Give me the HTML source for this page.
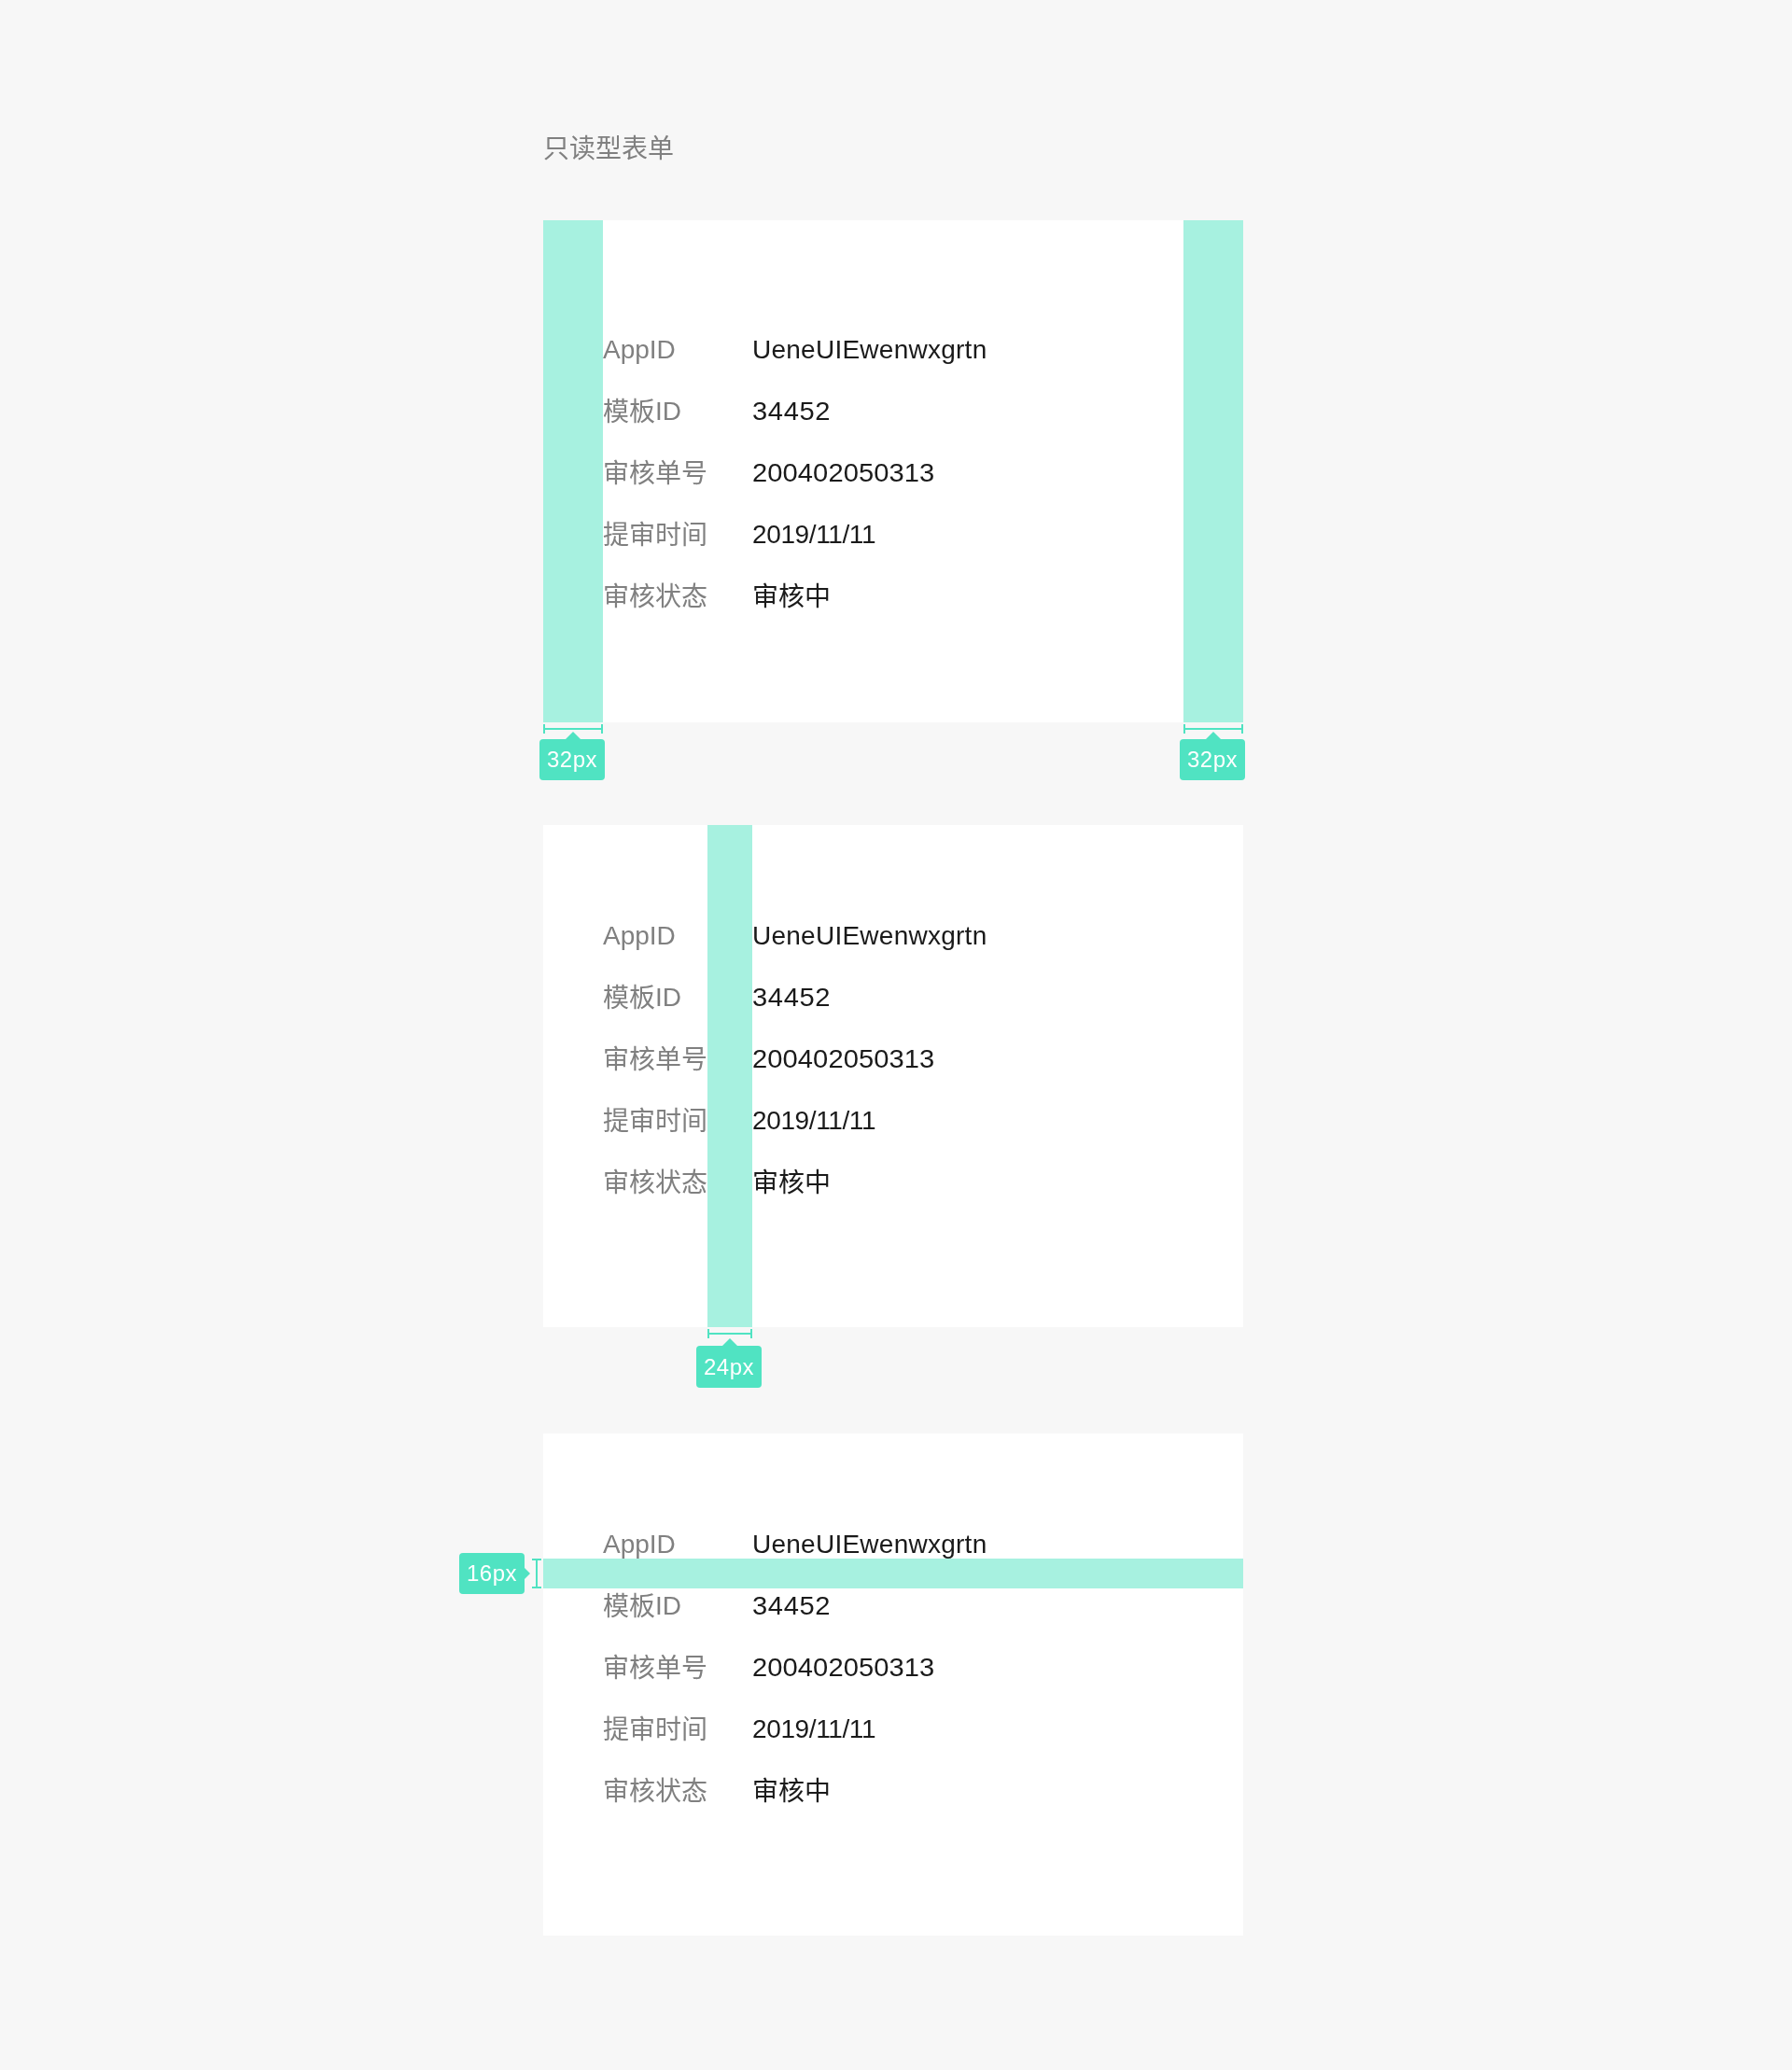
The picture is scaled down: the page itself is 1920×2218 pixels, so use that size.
<!DOCTYPE html>
<html lang="zh-CN">
<head>
<meta charset="utf-8">
<title>只读型表单</title>
<style>
html,body{margin:0;padding:0;}
body{width:1920px;height:2218px;background:#f7f7f7;position:relative;overflow:hidden;
  font-family:"Liberation Sans","Noto Sans CJK SC",sans-serif;}
.abs{position:absolute;}
.title,.row,.tag{will-change:transform;}
.title{left:582px;top:140px;font-size:28px;line-height:40px;color:#808080;white-space:nowrap;}
.card{left:582px;width:750px;height:538px;background:#fff;}
.row{position:absolute;left:64px;height:34px;line-height:34px;font-size:28px;white-space:nowrap;}
.row i{font-style:normal;position:relative;top:1px;}
.row .l{position:absolute;left:0;top:0;color:#808080;}
.row .v{position:absolute;left:160px;top:0;color:#1a1a1a;}
.v.a{letter-spacing:.25px;}
.v.b{letter-spacing:.6px;transform:scaleX(1.04);transform-origin:0 50%;}
.v.c{letter-spacing:.08px;transform:scaleX(1.04);transform-origin:0 50%;}
.v.d{letter-spacing:-.38px;}
.bar{background:rgba(80,227,194,.5);}
.m{background:#50e3c2;}
.tag{width:70px;height:44px;border-radius:4px;background:#50e3c2;color:#fff;font-size:24px;line-height:44px;text-align:center;letter-spacing:.55px;}
.tri{width:0;height:0;border-style:solid;}
.tri.up{border-width:0 8.5px 8.5px 8.5px;border-color:transparent transparent #50e3c2 transparent;}
.tri.right{border-width:6.5px 0 6.5px 6px;border-color:transparent transparent transparent #50e3c2;}
</style>
</head>
<body>
<div class="abs title">只读型表单</div>

<!-- card 1 -->
<div class="abs card" style="top:236px">
  <div class="row" style="top:122px"><span class="l">AppID</span><span class="v a">UeneUIEwenwxgrtn</span></div>
  <div class="row" style="top:188px"><span class="l"><i>模板</i>ID</span><span class="v b">34452</span></div>
  <div class="row" style="top:254px"><span class="l"><i>审核单号</i></span><span class="v c">200402050313</span></div>
  <div class="row" style="top:320px"><span class="l"><i>提审时间</i></span><span class="v d">2019/11/11</span></div>
  <div class="row" style="top:386px"><span class="l"><i>审核状态</i></span><span class="v"><i>审核中</i></span></div>
</div>
<div class="abs bar" style="left:582px;top:236px;width:64px;height:538px"></div>
<div class="abs bar" style="left:1268px;top:236px;width:64px;height:538px"></div>
<!-- measure left -->
<div class="abs m" style="left:582px;top:776px;width:2px;height:10px"></div>
<div class="abs m" style="left:644px;top:776px;width:2px;height:10px"></div>
<div class="abs m" style="left:582px;top:780px;width:64px;height:2px"></div>
<div class="abs tri up" style="left:605.5px;top:784px"></div>
<div class="abs tag" style="left:578px;top:792px">32px</div>
<!-- measure right -->
<div class="abs m" style="left:1268px;top:776px;width:2px;height:10px"></div>
<div class="abs m" style="left:1330px;top:776px;width:2px;height:10px"></div>
<div class="abs m" style="left:1268px;top:780px;width:64px;height:2px"></div>
<div class="abs tri up" style="left:1291.5px;top:784px"></div>
<div class="abs tag" style="left:1264px;top:792px">32px</div>

<!-- card 2 -->
<div class="abs card" style="top:884px">
  <div class="row" style="top:102px"><span class="l">AppID</span><span class="v a">UeneUIEwenwxgrtn</span></div>
  <div class="row" style="top:168px"><span class="l"><i>模板</i>ID</span><span class="v b">34452</span></div>
  <div class="row" style="top:234px"><span class="l"><i>审核单号</i></span><span class="v c">200402050313</span></div>
  <div class="row" style="top:300px"><span class="l"><i>提审时间</i></span><span class="v d">2019/11/11</span></div>
  <div class="row" style="top:366px"><span class="l"><i>审核状态</i></span><span class="v"><i>审核中</i></span></div>
</div>
<div class="abs bar" style="left:758px;top:884px;width:48px;height:538px"></div>
<div class="abs m" style="left:758px;top:1424px;width:2px;height:10px"></div>
<div class="abs m" style="left:804px;top:1424px;width:2px;height:10px"></div>
<div class="abs m" style="left:758px;top:1428px;width:48px;height:2px"></div>
<div class="abs tri up" style="left:773.5px;top:1434px"></div>
<div class="abs tag" style="left:746px;top:1442px;height:45px;line-height:46px">24px</div>

<!-- card 3 -->
<div class="abs card" style="top:1536px">
  <div class="row" style="top:102px"><span class="l">AppID</span><span class="v a">UeneUIEwenwxgrtn</span></div>
  <div class="row" style="top:168px"><span class="l"><i>模板</i>ID</span><span class="v b">34452</span></div>
  <div class="row" style="top:234px"><span class="l"><i>审核单号</i></span><span class="v c">200402050313</span></div>
  <div class="row" style="top:300px"><span class="l"><i>提审时间</i></span><span class="v d">2019/11/11</span></div>
  <div class="row" style="top:366px"><span class="l"><i>审核状态</i></span><span class="v"><i>审核中</i></span></div>
</div>
<div class="abs bar" style="left:582px;top:1670px;width:750px;height:32px"></div>
<div class="abs m" style="left:570px;top:1670px;width:10px;height:2px"></div>
<div class="abs m" style="left:570px;top:1700px;width:10px;height:2px"></div>
<div class="abs m" style="left:574px;top:1670px;width:2px;height:32px"></div>
<div class="abs tri right" style="left:562px;top:1679.5px"></div>
<div class="abs tag" style="left:492px;top:1664px">16px</div>
</body>
</html>
